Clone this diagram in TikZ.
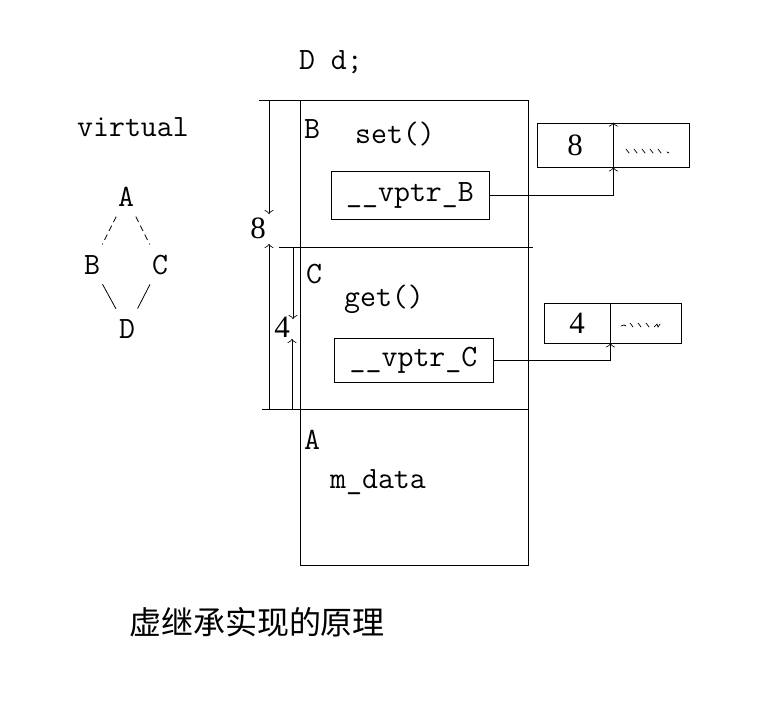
\documentclass[tikz,border=0pt]{standalone}
\usepackage{fontspec}
\newfontfamily\cjk{Noto Sans CJK SC}
\newfontfamily\digitfont{Liberation Serif}
\usetikzlibrary{arrows.meta,calc}
\begin{document}
\begin{tikzpicture}[x=1pt,y=-1pt,
  line width=0.8pt,
  >={Classical TikZ Rightarrow[length=4pt,width=9pt]},
  txt/.style={font=\ttfamily\fontsize{31}{36}\selectfont, inner sep=0pt},
  dig/.style={font=\digitfont\fontsize{31}{36}\selectfont, inner sep=0pt},
  cell/.style={draw, inner sep=0pt, minimum width=#1},
  tick/.style={line width=0.7pt, line cap=round},
  dsh/.style={dash pattern=on 6pt off 4pt},
  link/.style={shorten <=22pt, shorten >=23pt}]
\useasboundingbox (0,0) rectangle (772,704);
\fill[white] (0,0) rectangle (772,704);

% title texts
\node[txt] (dd) at (331,62) {D d;};
\node[txt] (virt) at (133,127) {virtual};

% diamond
\node[txt] (dA) at (126,197) {A};
\node[txt] (dB) at (92,265) {B};
\node[txt] (dC) at (160,265) {C};
\node[txt] (dD) at (127,329) {D};
\draw[dsh,link] (dA.center) -- (dB.center);
\draw[dsh,link] (dA.center) -- (dC.center);
\draw[link] (dB.center) -- (dD.center);
\draw[link] (dC.center) -- (dD.center);

% object box
\node[draw, inner sep=0pt, minimum width=228pt, minimum height=465pt, anchor=north west] (obj) at (300,100) {};
\draw (259,100) -- (obj.north west);
\draw (279,247) -- (533,247);
\draw (262,409) -- (528,409);

\node[txt] (lB) at (312,129) {B};
\node[txt] (set) at (395,134) {set()};
\node[draw, inner sep=0pt, minimum width=158pt, minimum height=48pt] (vB) at (410,195) {};
\node[txt] at (vB.center) {\_\_vptr\_B};

\node[txt] (lC) at (314,274) {C};
\node[txt] (get) at (384,299) {get()};
\node[draw, inner sep=0pt, minimum width=159pt, minimum height=44pt] (vC) at (413.5,360) {};
\node[txt] at (vC.center) {\_\_vptr\_C};

\node[txt] (lA) at (312,440) {A};
\node[txt] (md) at (378,482) {m\_data};

% dimension lines
\coordinate (d8t) at (269,100);
\coordinate (d8a) at (269,214);
\coordinate (d8b) at (269,244);
\coordinate (d8e) at (269,409);
\node[dig] (n8) at (258,228) {8};
\draw[->] (d8t) -- (d8a);
\draw[->] (d8e) -- (d8b);

\coordinate (d4t) at (293,247);
\coordinate (d4a) at (293,319);
\coordinate (d4b) at (292,339);
\coordinate (d4e) at (292,409);
\node[dig] (n4) at (282,327) {4};
\draw[->] (d4t) -- (d4a);
\draw[->] (d4e) -- (d4b);

% table 8
\node[cell=76pt, minimum height=44pt] (t8L) at (575,145) {};
\node[cell=76pt, minimum height=44pt] (t8R) at (651,145) {};
\node[dig] at (t8L.center) {8};
\foreach \x in {626,634,642,650,658} \draw[tick] (\x,149) -- ++(3,4);
\draw[tick] (667,152) -- ++(2,1);
\draw[->] (vB.east) -| (t8L.south east);
\draw[->] (t8L.south east) -- (t8L.north east);

% table 4
\node[cell=66pt, minimum height=40pt] (t4L) at (577,323) {};
\node[cell=71pt, minimum height=40pt] (t4R) at (645.5,323) {};
\node[dig] at (t4L.center) {4};
\draw[tick] (621,326) -- ++(3,-1) -- ++(2,1);
\foreach \x in {630,638,646} \draw[tick] (\x,323) -- ++(3,4);
\draw[tick] (654,327) -- ++(3,-3) -- ++(1,3) -- ++(2,-3);
\draw[->] (vC.east) -| (t4L.south east);

% caption
\node[font=\cjk\fontsize{32}{36}\selectfont, inner sep=0pt] (cap) at (257,622) {虚继承实现的原理};
\end{tikzpicture}
\end{document}
